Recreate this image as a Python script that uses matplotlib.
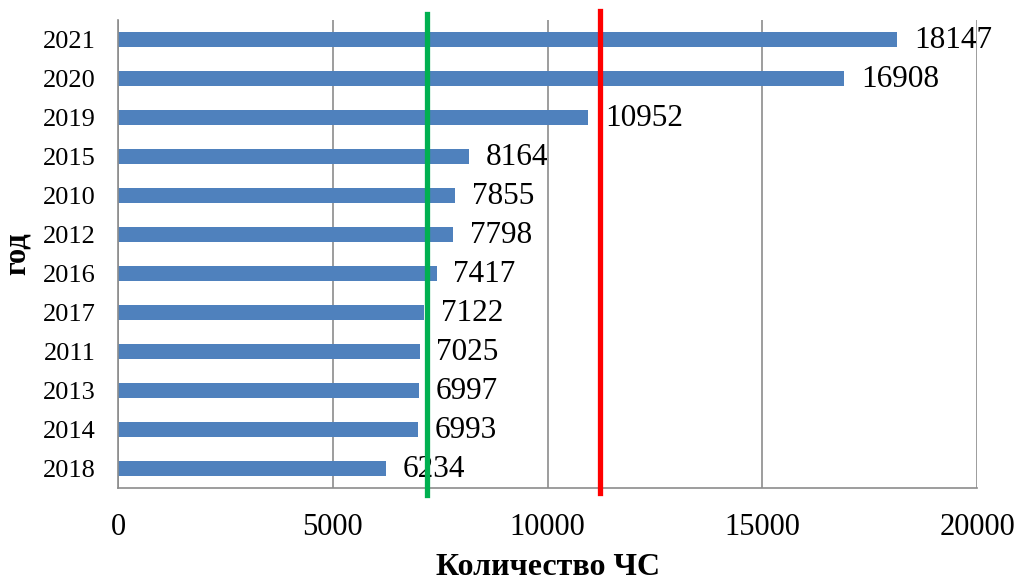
import numpy as np
import matplotlib
matplotlib.use('Agg')
from matplotlib import pyplot as plt

# data, top to bottom as in the chart
years = ['2021', '2020', '2019', '2015', '2010', '2012', '2016', '2017', '2011', '2013', '2014', '2018']
counts = [18147, 16908, 10952, 8164, 7855, 7798, 7417, 7122, 7025, 6997, 6993, 6234]
green_level = 7200
red_level = 11220

plt.rcParams['font.family'] = ['Liberation Serif', 'DejaVu Serif']

fig = plt.figure(figsize=(10.19, 5.82), dpi=100)
ax = fig.add_axes([0.1158, 0.1615, 0.8430, 0.8041])

ypos = np.arange(len(years))
ax.barh(ypos, counts, height=0.39, color='#4F81BD', zorder=2)
for y, v in zip(ypos, counts):
    ax.annotate(str(v), (v, y), xytext=(12, -1), textcoords='offset points',
                va='center', ha='left', fontsize=22.5, zorder=4)

ax.set_xlim(0, 20000)
ax.set_ylim(len(years) - 0.5, -0.5)
ax.set_yticks(ypos)
ax.set_yticklabels(years)
ax.set_xticks([0, 5000, 10000, 15000, 20000])
ax.tick_params(axis='x', length=0, pad=18, labelsize=22)
ax.tick_params(axis='y', length=0, pad=16, labelsize=19)

ax.grid(axis='x', color='#8c8c8c', lw=1.2, zorder=0)
for s in ['top', 'right']:
    ax.spines[s].set_visible(False)
for s in ['left', 'bottom']:
    ax.spines[s].set_color('#8c8c8c')
    ax.spines[s].set_linewidth(1.2)

# vertical reference lines, a bit past the plot area
ax.plot([green_level, green_level], [-0.015, 1.013], color='#00B050', lw=3.8,
        transform=ax.get_xaxis_transform(), clip_on=False, zorder=5)
ax.plot([red_level, red_level], [-0.01, 1.02], color='#FF0000', lw=3.8,
        transform=ax.get_xaxis_transform(), clip_on=False, zorder=5)

ax.set_xlabel('Количество ЧС', fontsize=23, fontweight='bold', labelpad=8)
ax.set_ylabel('год', fontsize=22, fontweight='bold', labelpad=8)

fig.savefig('out.png', dpi=100)
